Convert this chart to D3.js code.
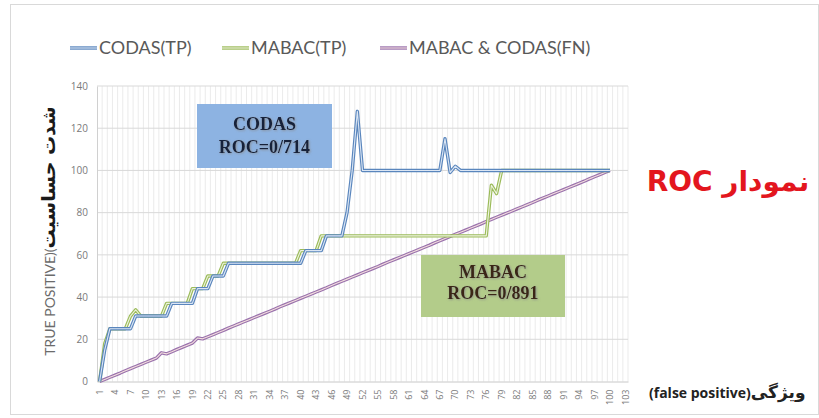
<!DOCTYPE html>
<html>
<head>
<meta charset="utf-8">
<script src="https://cdn.jsdelivr.net/npm/d3@7"></script>
<style>
  body { margin: 0; background: #fff; }
  svg { display: block; }
</style>
</head>
<body>
<div id="chart"></div>
<script>
// x categories run 1..103, labels every third one
var tickLabels = [1, 4, 7, 10, 13, 16, 19, 22, 25, 28, 31, 34, 37, 40, 43, 46, 49, 52, 55, 58,
                  61, 64, 67, 70, 73, 76, 79, 82, 85, 88, 91, 94, 97, 100, 103];
var yTicks = [0, 20, 40, 60, 80, 100, 120, 140];

// CODAS(TP), categories 1..100
var codasTP = [0, 15, 25, 25, 25, 25, 25, 31, 31, 31,
               31, 31, 31, 31, 37, 37, 37, 37, 37, 44,
               44, 44, 50, 50, 50, 56, 56, 56, 56, 56,
               56, 56, 56, 56, 56, 56, 56, 56, 56, 56,
               62, 62, 62, 62, 69, 69, 69, 69, 80, 100,
               128, 100, 100, 100, 100, 100, 100, 100, 100, 100,
               100, 100, 100, 100, 100, 100, 100, 115, 99, 102,
               100, 100, 100, 100, 100, 100, 100, 100, 100, 100,
               100, 100, 100, 100, 100, 100, 100, 100, 100, 100,
               100, 100, 100, 100, 100, 100, 100, 100, 100, 100];

// MABAC(TP), categories 1..100
var mabacTP = [0, 18, 25, 25, 25, 25, 31, 34, 31, 31,
               31, 31, 31, 37, 37, 37, 37, 37, 44, 44,
               44, 50, 50, 50, 56, 56, 56, 56, 56, 56,
               56, 56, 56, 56, 56, 56, 56, 56, 56, 62,
               62, 62, 62, 69, 69, 69, 69, 69, 69, 69,
               69, 69, 69, 69, 69, 69, 69, 69, 69, 69,
               69, 69, 69, 69, 69, 69, 69, 69, 69, 69,
               69, 69, 69, 69, 69, 69, 93, 89, 100, 100,
               100, 100, 100, 100, 100, 100, 100, 100, 100, 100,
               100, 100, 100, 100, 100, 100, 100, 100, 100, 100];

// MABAC & CODAS(FN), categories 1..100
var bothFN = [0, 1.0, 2.0, 3.0, 4.0, 5.1, 6.1, 7.1, 8.1, 9.1,
              10.1, 11.1, 13.6, 13.1, 14.1, 15.2, 16.2, 17.2, 18.2, 20.6,
              20.2, 21.2, 22.2, 23.2, 24.2, 25.3, 26.3, 27.3, 28.3, 29.3,
              30.3, 31.3, 32.3, 33.3, 34.3, 35.4, 36.4, 37.4, 38.4, 39.4,
              40.4, 41.4, 42.4, 43.4, 44.4, 45.5, 46.5, 47.5, 48.5, 49.5,
              50.5, 51.5, 52.5, 53.5, 54.5, 55.6, 56.6, 57.6, 58.6, 59.6,
              60.6, 61.6, 62.6, 63.6, 64.6, 65.7, 66.7, 67.7, 68.7, 69.7,
              70.7, 71.7, 72.7, 73.7, 74.7, 75.8, 76.8, 77.8, 78.8, 79.8,
              80.8, 81.8, 82.8, 83.8, 84.8, 85.9, 86.9, 87.9, 88.9, 89.9,
              90.9, 91.9, 92.9, 93.9, 94.9, 96.0, 97.0, 98.0, 99.0, 100];

var series = [
  {name: "CODAS(TP)", values: codasTP, outer: "#5a86bd", inner: "#dbe6f4"},
  {name: "MABAC(TP)", values: mabacTP, outer: "#9bbb59", inner: "#eef3e0"},
  {name: "MABAC & CODAS(FN)", values: bothFN, outer: "#9a72ad", inner: "#f3dede"}
];

var W = 819, H = 418;
var svg = d3.select("#chart").append("svg")
  .attr("width", W).attr("height", H);

// outer frame
svg.append("rect")
  .attr("x", 10.5).attr("y", 4.5).attr("width", 808).attr("height", 410)
  .attr("fill", "#fff").attr("stroke", "#d9d9d9");

var categories = d3.range(1, 104);
var x = d3.scaleBand().domain(categories).range([97, 628]).padding(0);
var y = d3.scaleLinear().domain([0, 140]).range([381.5, 86]);
function cx(c) { return x(c) + x.bandwidth() / 2; }

// vertical gridlines at each category boundary
svg.append("g").selectAll("line")
  .data(categories.slice(1).concat([104]))
  .join("line")
  .attr("x1", function(c) { return c === 104 ? 628 : x(c); })
  .attr("x2", function(c) { return c === 104 ? 628 : x(c); })
  .attr("y1", y(140)).attr("y2", y(0))
  .attr("stroke", "#e6e6e6").attr("stroke-width", 0.8);

// horizontal gridlines
svg.append("g").selectAll("line")
  .data(yTicks.slice(1))
  .join("line")
  .attr("x1", 97).attr("x2", 628)
  .attr("y1", function(d) { return y(d); })
  .attr("y2", function(d) { return y(d); })
  .attr("stroke", "#d9d9d9");

// axes
var yAxis = svg.append("g")
  .attr("transform", "translate(97,0)")
  .call(d3.axisLeft(y).tickValues(yTicks).tickSize(0).tickPadding(9));
yAxis.select(".domain").attr("stroke", "#d0d0d0");
yAxis.selectAll("text").attr("fill", "#7a7a7a").style("font", "10px 'Open Sans', sans-serif");

var xAxis = svg.append("g")
  .attr("transform", "translate(0," + y(0) + ")")
  .call(d3.axisBottom(x).tickValues(tickLabels).tickSize(0));
xAxis.select(".domain").attr("stroke", "#c8c8c8");
xAxis.selectAll("text")
  .attr("fill", "#7a7a7a")
  .style("font", "9px 'Open Sans', sans-serif")
  .attr("transform", "rotate(-90)")
  .attr("text-anchor", "end")
  .attr("x", -8).attr("y", 0).attr("dy", "0.35em");

// lines: Excel style double line, dark outline with light core
var line = d3.line()
  .x(function(d, i) { return cx(i + 1); })
  .y(function(d) { return y(d); });

var order = [2, 1, 0];
order.forEach(function(k) {
  var s = series[k];
  svg.append("path").datum(s.values)
    .attr("d", line).attr("fill", "none")
    .attr("stroke", s.outer).attr("stroke-width", 3.4).attr("stroke-linejoin", "round");
  svg.append("path").datum(s.values)
    .attr("d", line).attr("fill", "none")
    .attr("stroke", s.inner).attr("stroke-width", 1.1).attr("stroke-linejoin", "round");
});

// legend
var legendX = [70, 222, 380];
var legend = svg.append("g").selectAll("g")
  .data(series).join("g")
  .attr("transform", function(d, i) { return "translate(" + legendX[i] + ",48)"; });
legend.append("line").attr("x1", 0).attr("x2", 27)
  .attr("stroke", function(d) { return d.outer; }).attr("stroke-width", 3.4);
legend.append("line").attr("x1", 0).attr("x2", 27)
  .attr("stroke", function(d) { return d.inner; }).attr("stroke-width", 1.1);
legend.append("text").attr("x", 29).attr("dy", "0.35em")
  .attr("fill", "#595959")
  .style("font", "18px Lato, 'Open Sans', sans-serif")
  .text(function(d) { return d.name; });

// y axis title
var yt = svg.append("text")
  .attr("transform", "translate(55,231) rotate(-90)")
  .attr("text-anchor", "middle")
  .attr("direction", "ltr");
yt.append("tspan").attr("fill", "#6b6b6b").style("font", "14px Lato, 'Open Sans', sans-serif")
  .text("TRUE POSITIVE)(");
yt.append("tspan").attr("fill", "#1a1a1a").style("font", "bold 19px 'DejaVu Sans', sans-serif")
  .text("شدت حساسیت");

// x axis title
var xt = svg.append("text")
  .attr("x", 649).attr("y", 398)
  .attr("direction", "ltr");
xt.append("tspan").attr("fill", "#222").style("font", "bold 14px 'Open Sans', sans-serif")
  .text("(false positive)");
xt.append("tspan").attr("fill", "#222").style("font", "bold 17px 'DejaVu Sans', sans-serif")
  .text("ویژگی");

// annotation boxes
var defs = svg.append("defs");
var f = defs.append("filter").attr("id", "glow").attr("x", "-10%").attr("y", "-20%")
  .attr("width", "120%").attr("height", "140%");
f.append("feDropShadow").attr("dx", 0.8).attr("dy", 0.8).attr("stdDeviation", 0.8)
  .attr("flood-color", "#888").attr("flood-opacity", 0.8);

var boxes = [
  {x: 197, y: 104, w: 135, h: 64, fill: "#8db3e2", color: "#16213a", lines: ["CODAS", "ROC=0/714"], base: [130, 153]},
  {x: 421, y: 255, w: 144, h: 62, fill: "#b3cc8a", color: "#3a2718", lines: ["MABAC", "ROC=0/891"], base: [278, 299]}
];
boxes.forEach(function(b) {
  svg.append("rect").attr("x", b.x).attr("y", b.y).attr("width", b.w).attr("height", b.h)
    .attr("fill", b.fill);
  b.lines.forEach(function(t, i) {
    svg.append("text")
      .attr("x", b.x + b.w / 2).attr("y", b.base[i])
      .attr("text-anchor", "middle")
      .attr("fill", b.color)
      .attr("filter", "url(#glow)")
      .style("font", "bold 18px 'Liberation Serif', serif")
      .text(t);
  });
});

// title on the right
svg.append("text")
  .attr("x", 728).attr("y", 191)
  .attr("text-anchor", "middle")
  .attr("direction", "ltr")
  .attr("fill", "#e3161e")
  .style("font", "bold 28px 'DejaVu Sans', sans-serif")
  .text("ROC نمودار");
</script>
</body>
</html>
